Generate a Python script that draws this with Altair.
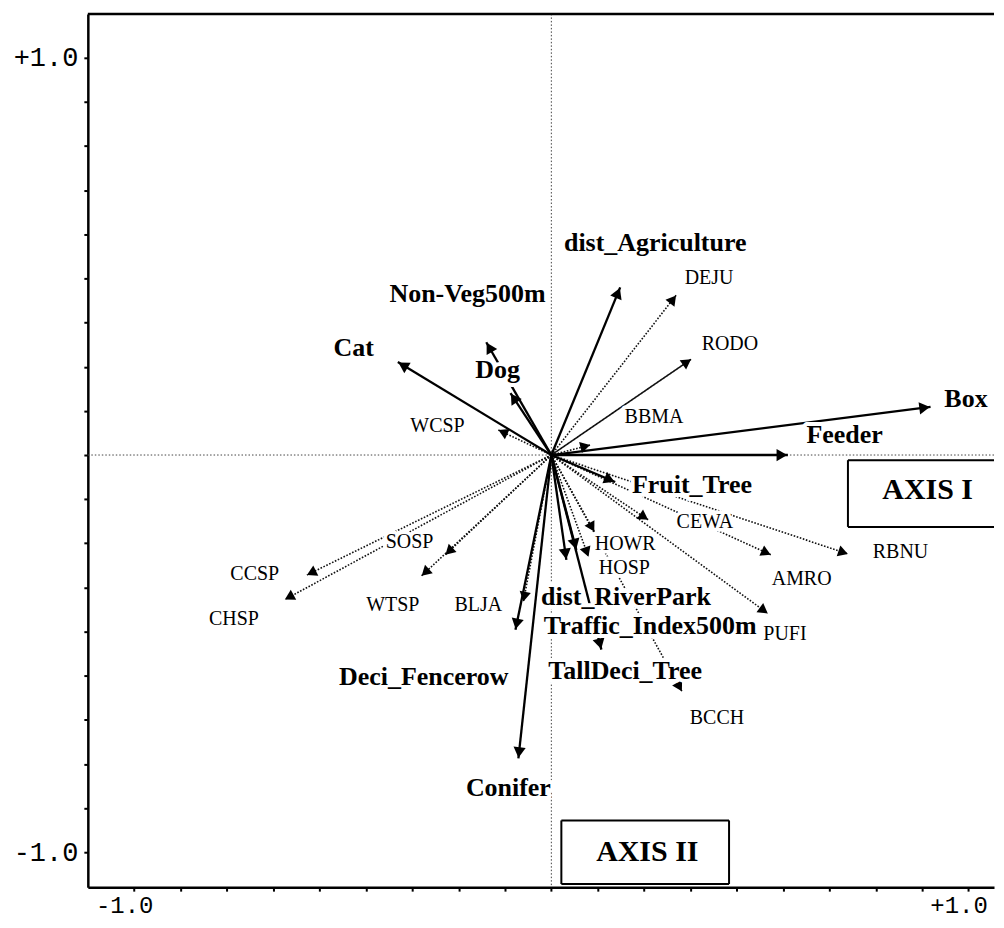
import math
import altair as alt
import pandas as pd

# ---------------- data (canonical axis units) ----------------
env_names = ["Box", "Feeder", "Fruit_Tree", "dist_Agriculture", "Non-Veg500m", "Cat",
             "Dog", "Deci_Fencerow", "Conifer", "TallDeci_Tree", "dist_RiverPark",
             "Traffic_Index500m"]
env_x = [0.909, 0.567, 0.153, 0.165, -0.156, -0.368, -0.098, -0.086, -0.079, 0.120, 0.036, 0.060]
env_y = [0.121, 0.000, -0.068, 0.422, 0.284, 0.234, 0.156, -0.440, -0.764, -0.490, -0.264, -0.239]
env_label_x = [0.994, 0.703, 0.337, 0.249, -0.201, -0.474, -0.129, -0.306, -0.103, 0.177, 0.179, 0.237]
env_label_y = [0.141, 0.050, -0.075, 0.535, 0.405, 0.269, 0.214, -0.558, -0.839, -0.543, -0.357, -0.430]

sp_names = ["DEJU", "RODO", "BBMA", "WCSP", "CEWA", "AMRO", "RBNU", "PUFI", "BCCH",
            "HOWR", "HOSP", "SOSP", "WTSP", "CCSP", "CHSP", "BLJA"]
sp_x = [0.299, 0.335, 0.093, -0.127, 0.232, 0.526, 0.711, 0.519, 0.313, 0.103, 0.089,
        -0.254, -0.311, -0.586, -0.639, -0.067]
sp_y = [0.402, 0.241, 0.025, 0.063, -0.163, -0.251, -0.249, -0.399, -0.595, -0.193, -0.256,
        -0.251, -0.304, -0.302, -0.364, -0.369]
sp_label_x = [0.378, 0.428, 0.246, -0.273, 0.368, 0.600, 0.837, 0.560, 0.397, 0.177, 0.175,
              -0.340, -0.380, -0.711, -0.761, -0.175]
sp_label_y = [0.445, 0.279, 0.095, 0.073, -0.168, -0.312, -0.244, -0.450, -0.661, -0.224, -0.284,
              -0.219, -0.377, -0.299, -0.412, -0.377]

axis_box_names = ["AXIS I", "AXIS II"]
axis_box_x1 = [0.711, 0.024]
axis_box_x2 = [None, 0.426]          # None: box runs off the right edge of the frame
axis_box_y1 = [-0.013, -0.920]
axis_box_y2 = [-0.181, -1.080]
axis_box_tx = [0.902, 0.230]
axis_box_ty = [-0.088, -1.000]

x_tick_values = [round(k / 9, 6) for k in range(-9, 10)]
y_tick_values = [round(k / 9, 6) for k in range(-9, 10)]

# ---------------- layout ----------------
W, H = 908, 875
KX = 418.0
KY = 398.0
XMIN = -10 / 9
XMAX = XMIN + W / KX
YMAX = 442 / KY
YMIN = YMAX - H / KY


def head_table(names, xs, ys, back_px):
    rows = []
    for n, x, y in zip(names, xs, ys):
        px, py = x * KX, y * KY
        r = math.hypot(px, py)
        f = max(0.0, 1 - back_px / r) if r > 0 else 0
        ang = (math.degrees(math.atan2(px, py)) + 360) % 360
        rows.append({"name": n, "x": x, "y": y, "hx": x * f, "hy": y * f,
                     "angle": ang, "x0": 0.0, "y0": 0.0})
    return pd.DataFrame(rows)


env_df = head_table(env_names, env_x, env_y, 6)
env_df["lx"] = env_label_x
env_df["ly"] = env_label_y
sp_df = head_table(sp_names, sp_x, sp_y, 5)
sp_df["lx"] = sp_label_x
sp_df["ly"] = sp_label_y

bx2 = [XMAX if v is None else v for v in axis_box_x2]
box_df = pd.DataFrame({"name": axis_box_names, "x1": axis_box_x1, "x2": bx2,
                       "y1": axis_box_y1, "y2": axis_box_y2,
                       "tx": axis_box_tx, "ty": axis_box_ty})
edges = []
for n, x1, x2raw, x2, y1, y2 in zip(axis_box_names, axis_box_x1, axis_box_x2, bx2,
                                     axis_box_y1, axis_box_y2):
    edges.append({"ax": x1, "ax2": x2, "ay": y1, "ay2": y1})
    edges.append({"ax": x1, "ax2": x2, "ay": y2, "ay2": y2})
    edges.append({"ax": x1, "ax2": x1, "ay": y1, "ay2": y2})
    if x2raw is not None:
        edges.append({"ax": x2, "ax2": x2, "ay": y1, "ay2": y2})
edge_df = pd.DataFrame(edges)
origin_df = pd.DataFrame({"x": [0.0], "y": [0.0]})

xscale = alt.Scale(domain=[XMIN, XMAX], nice=False, zero=False)
yscale = alt.Scale(domain=[YMIN, YMAX], nice=False, zero=False)

label_expr = ("abs(datum.value - 1) < 0.01 ? '+1.0' : "
              "(abs(datum.value + 1) < 0.01 ? '-1.0' : '')")
common_axis = dict(grid=False, title=None, tickSize=4, tickWidth=2,
                   tickColor="black", domainColor="black", domainWidth=2.5,
                   labelFont="Liberation Mono", labelColor="black",
                   labelOverlap=False, labelFlush=False, labelExpr=label_expr)
xaxis = alt.Axis(values=x_tick_values, labelOffset=-10, labelPadding=2, labelFontSize=24,
                 minExtent=31, maxExtent=31, **common_axis)
yaxis = alt.Axis(values=y_tick_values, labelPadding=6, labelFontSize=27,
                 minExtent=80, maxExtent=80, **common_axis)


def X(f):
    return alt.X(f, type="quantitative", scale=xscale, axis=xaxis)


def Y(f):
    return alt.Y(f, type="quantitative", scale=yscale, axis=yaxis)


base_origin = alt.Chart(origin_df)
h_dot = base_origin.mark_rule(color="#444", strokeWidth=1, strokeDash=[1.5, 2]).encode(y=Y("y"))
v_dot = base_origin.mark_rule(color="#444", strokeWidth=1, strokeDash=[1.5, 2]).encode(x=X("x"))

sp_lines = alt.Chart(sp_df).mark_rule(color="#111", strokeWidth=1.6).encode(
    x=X("x0"), y=Y("y0"), x2="x", y2="y",
    strokeDash=alt.condition("datum.name == 'RODO'", alt.value([1, 0]), alt.value([1.6, 1.6]))
)
env_lines = alt.Chart(env_df).mark_rule(color="black", strokeWidth=2.3).encode(
    x=X("x0"), y=Y("y0"), x2="x", y2="y")

sp_heads = alt.Chart(sp_df).mark_point(shape="triangle-up", filled=True, color="black",
                                       opacity=1, size=130).encode(
    x=X("hx"), y=Y("hy"), angle=alt.Angle("angle:Q", scale=None))
env_heads = alt.Chart(env_df).mark_point(shape="triangle-up", filled=True, color="black",
                                         opacity=1, size=150).encode(
    x=X("hx"), y=Y("hy"), angle=alt.Angle("angle:Q", scale=None))

box_fill = alt.Chart(box_df).mark_rect(fill="white", strokeWidth=0).encode(
    x=X("x1"), x2="x2", y=Y("y1"), y2="y2")
box_edges = alt.Chart(edge_df).mark_rule(color="black", strokeWidth=2).encode(
    x=X("ax"), x2="ax2", y=Y("ay"), y2="ay2")

env_font = dict(font="Liberation Serif", fontSize=26, fontWeight="bold", align="center",
                baseline="middle")
sp_font = dict(font="Liberation Serif", fontSize=20, align="center", baseline="middle")

env_halo = alt.Chart(env_df).mark_text(color="white", stroke="white", strokeWidth=8,
                                       strokeJoin="round", **env_font).encode(
    x=X("lx"), y=Y("ly"), text="name")
sp_halo = alt.Chart(sp_df).mark_text(color="white", stroke="white", strokeWidth=7,
                                     strokeJoin="round", **sp_font).encode(
    x=X("lx"), y=Y("ly"), text="name")
env_text = alt.Chart(env_df).mark_text(color="black", **env_font).encode(
    x=X("lx"), y=Y("ly"), text="name")
sp_text = alt.Chart(sp_df).mark_text(color="black", **sp_font).encode(
    x=X("lx"), y=Y("ly"), text="name")

box_text = alt.Chart(box_df).mark_text(font="Liberation Serif", fontSize=30, fontWeight="bold",
                                       color="black", align="center", baseline="middle").encode(
    x=X("tx"), y=Y("ty"), text="name")

top_frame = base_origin.mark_rule(color="black", strokeWidth=2.5).encode(
    x=alt.value(0), x2=alt.value(W), y=alt.value(0))

chart = alt.layer(
    h_dot, v_dot, sp_lines, env_lines, sp_heads, env_heads, box_fill, box_edges,
    sp_halo, env_halo, sp_text, env_text, box_text, top_frame
).properties(
    width=W, height=H,
    padding={"left": 0, "top": 3, "right": 0, "bottom": 0},
    background="white",
).configure_view(stroke=None)

chart.save("out.html", embed_options={"renderer": "svg", "actions": False})
